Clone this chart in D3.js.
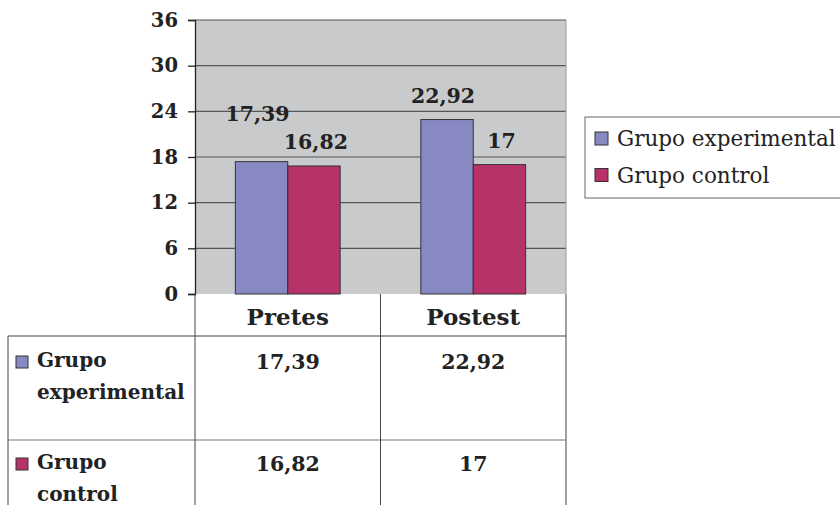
<!DOCTYPE html>
<html><head><meta charset="utf-8">
<script src="https://cdn.jsdelivr.net/npm/d3@7"></script>
<style>body{margin:0;background:#fff}svg{display:block}</style>
</head><body><svg id="c" width="840" height="505"></svg>
<script>
const categories = ["Pretes", "Postest"];
const seriesNames = ["Grupo experimental", "Grupo control"];
const seriesRowLabels = [["Grupo", "experimental"], ["Grupo", "control"]];
const experimental = [17.39, 22.92];
const control = [16.82, 17];
const yTicks = [0, 6, 12, 18, 24, 30, 36];
const colors = ["#8889c2", "#b73268"];

const series = [experimental, control];
const fmt = d3.formatLocale({decimal: ",", thousands: ".", grouping: [3], currency: ["", ""]}).format("~g");
const FONT = "DejaVu Serif";

const svg = d3.select("#c");
const L = 195, R = 566, T = 20, B = 294;

const x = d3.scaleBand().domain(categories).range([L, R]).paddingInner(0).paddingOuter(0);
const xs = d3.scaleBand().domain(d3.range(series.length)).range([0, x.bandwidth()]).paddingInner(0).paddingOuter(0.77);
const y = d3.scaleLinear().domain([0, 36]).range([B, T]);

// plot background
svg.append("rect").attr("x", L).attr("y", T).attr("width", R - L).attr("height", B - T).attr("fill", "#c9cacc");

// gridlines
svg.append("g").selectAll("line").data(yTicks.filter(t => t > 0)).join("line")
  .attr("x1", L).attr("x2", R).attr("y1", d => y(d)).attr("y2", d => y(d))
  .attr("stroke", "#555").attr("stroke-width", 1.2);
svg.append("line").attr("x1", R).attr("x2", R).attr("y1", T).attr("y2", B).attr("stroke", "#999").attr("stroke-width", 1);

// y axis
const yAxis = svg.append("g").attr("transform", `translate(${L},0)`)
  .call(d3.axisLeft(y).tickValues(yTicks).tickSize(7).tickPadding(10).tickFormat(d => d));
yAxis.select(".domain").attr("stroke", "#222").attr("stroke-width", 1.3);
yAxis.selectAll(".tick line").attr("stroke", "#222").attr("stroke-width", 1.3);
yAxis.selectAll("text").attr("font-family", FONT).attr("font-weight", "bold").attr("font-size", 19.5).attr("fill", "#222");

// bars
const bars = [];
categories.forEach((c, i) => series.forEach((s, j) => bars.push({c, j, v: s[i]})));
svg.append("g").selectAll("rect").data(bars).join("rect")
  .attr("x", d => x(d.c) + xs(d.j)).attr("width", xs.bandwidth())
  .attr("y", d => y(d.v)).attr("height", d => y(0) - y(d.v))
  .attr("fill", d => colors[d.j]).attr("stroke", "#333").attr("stroke-width", 1);

// data labels with simple overlap avoidance
const labels = bars.map(d => ({...d, lx: x(d.c) + xs(d.j) + xs.bandwidth() / 2, ly: y(d.v) - 17}));
categories.forEach(c => {
  const g = labels.filter(l => l.c === c);
  const a = g[0], b = g[1];
  if (Math.abs(a.ly - b.ly) < 22) a.ly = Math.min(a.ly, b.ly) - 24;
});
svg.append("g").selectAll("text").data(labels).join("text")
  .attr("x", d => d.lx + (d.j === 0 ? -4 : 2)).attr("y", d => d.ly)
  .attr("text-anchor", "middle").attr("font-family", FONT).attr("font-weight", "bold").attr("font-size", 20.5).attr("fill", "#222")
  .text(d => fmt(d.v));

// data table
const tbl = svg.append("g");
const rowTop = 336, rowMid = 440, tblLeft = 8, tblBottom = 505;
const lineC = "#444";
tbl.append("line").attr("x1", tblLeft).attr("x2", R).attr("y1", rowTop).attr("y2", rowTop).attr("stroke", lineC);
tbl.append("line").attr("x1", tblLeft).attr("x2", R).attr("y1", rowMid).attr("y2", rowMid).attr("stroke", "#777");
tbl.append("line").attr("x1", tblLeft).attr("x2", tblLeft).attr("y1", rowTop).attr("y2", tblBottom).attr("stroke", lineC);
[L, ...categories.map(c => x(c) + x.bandwidth())].forEach(xx =>
  tbl.append("line").attr("x1", xx).attr("x2", xx).attr("y1", B).attr("y2", tblBottom).attr("stroke", lineC));
tbl.selectAll("text.h").data(categories).join("text").attr("class", "h")
  .attr("x", d => x(d) + x.bandwidth() / 2).attr("y", 325).attr("text-anchor", "middle")
  .attr("font-family", FONT).attr("font-weight", "bold").attr("font-size", 23).attr("fill", "#222").text(d => d);
const rowBase = [369, 471];
series.forEach((s, j) => {
  tbl.append("g").selectAll("text").data(categories).join("text")
    .attr("x", d => x(d) + x.bandwidth() / 2).attr("y", rowBase[j]).attr("text-anchor", "middle")
    .attr("font-family", FONT).attr("font-weight", "bold").attr("font-size", 20.5).attr("fill", "#222")
    .text((d, i) => fmt(s[i]));
  tbl.append("rect").attr("x", 16).attr("y", rowBase[j] - 13).attr("width", 12).attr("height", 12)
    .attr("fill", colors[j]).attr("stroke", "#333").attr("stroke-width", 1);
  seriesRowLabels[j].forEach((t, k) => tbl.append("text").attr("x", 37).attr("y", rowBase[j] - 2 + k * 32)
    .attr("font-family", FONT).attr("font-weight", "bold").attr("font-size", 20).attr("fill", "#222").text(t));
});

// legend
const lg = svg.append("g");
lg.append("rect").attr("x", 585).attr("y", 117).attr("width", 270).attr("height", 81).attr("fill", "#fff").attr("stroke", "#666");
seriesNames.forEach((n, j) => {
  const by = 146 + j * 36.5;
  lg.append("rect").attr("x", 595).attr("y", by - 14).attr("width", 13).attr("height", 13).attr("fill", colors[j]).attr("stroke", "#333");
  lg.append("text").attr("x", 617).attr("y", by).attr("font-family", FONT).attr("font-size", 21.5).attr("fill", "#222").text(n);
});
</script></body></html>
